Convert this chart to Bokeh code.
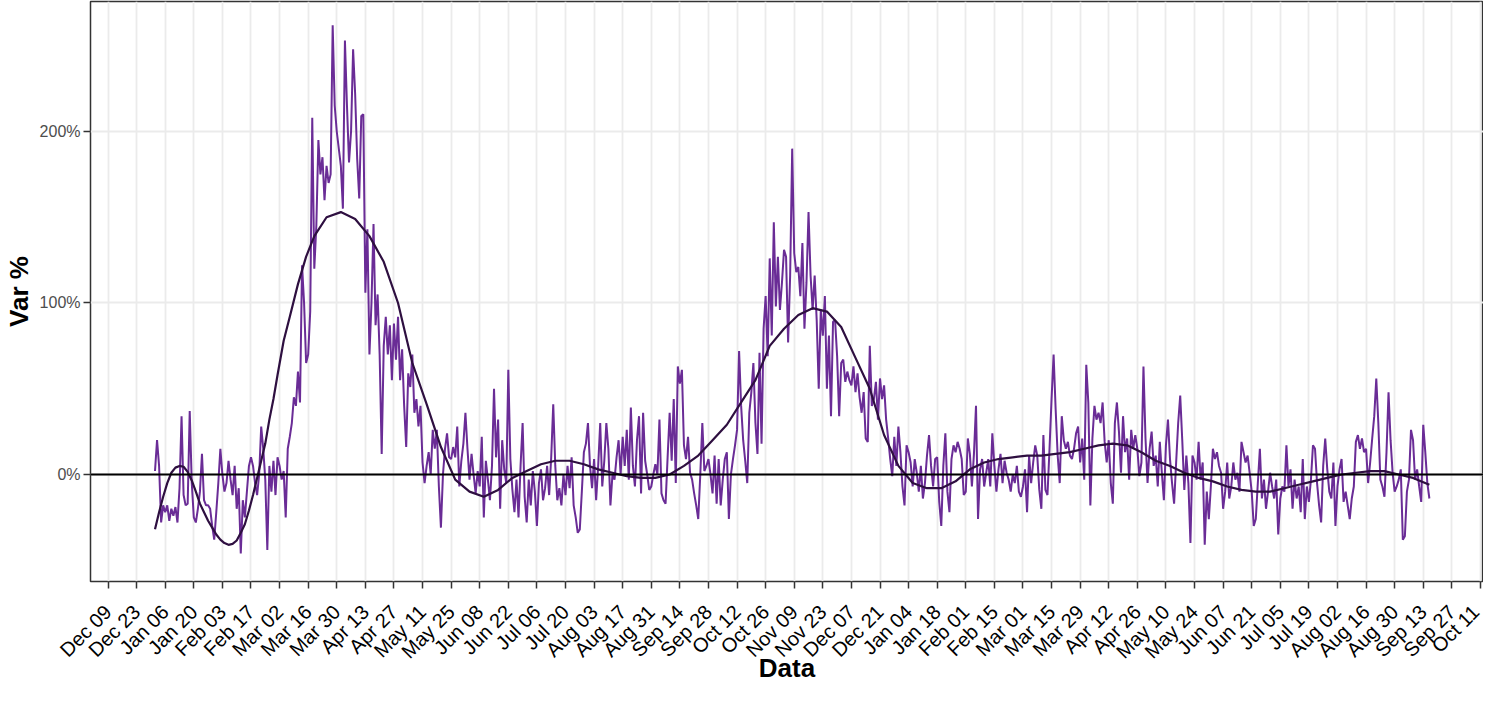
import math
import pandas as pd
from bokeh.plotting import figure
from bokeh.models import Range1d, FixedTicker, DatetimeTickFormatter, PrintfTickFormatter, Span
from bokeh.embed import file_html
from bokeh.resources import INLINE

# ---------------- data (daily Var %) ----------------
start_date = "2020-01-01"

var_2020_01 = [2, 20, 5, -28, -18, -22, -18, -27, -20, -24, -19, -28, -8, 34, -12, -18, -17, 37, -5,
               -25, -28, -20, -10, 12, -15, -18, -18, -20, -30, -38, -22]
var_2020_02 = [-5, 15, 0, -10, -5, 8, -3, -12, 5, -20, -8, -46, -15, -25, -10, 5,
               10, 5, -5, -12, 0, 28, 15, -3, -44, 5, -10, 8, -12]
var_2020_03 = [10, 5, -3, 2, -25, 15, 22, 30, 45, 40, 60, 42, 122, 100, 65,
               70, 95, 208, 120, 145, 195, 175, 185, 160, 180, 170, 175, 262, 215, 200, 190]
var_2020_04 = [180, 155, 253, 215, 182, 200, 248, 222, 184, 161, 209, 210,
               106, 143, 70, 100, 146, 87, 105, 70, 12, 75, 92, 70, 87, 55, 88, 67, 92, 55]
var_2020_05 = [73, 40, 16, 59, 51, 70, 36, 44, 28, 40, 7, -5, 5, 13, 0, 26, 15, 26, -7, -31, 0, 15, 24, 10,
               9, 16, 10, 28, -7, 8, 18]
var_2020_06 = [36, 15, -3, 12, 0, -11, 2, -7, 22, -25, 8, -3, -15, 5, 50, 10, 32, -20, 20, 3, -5,
               61, 9, -9, -22, -3, -25, 5, 30, -13]
var_2020_07 = [-28, -3, -18, 2, -10, -30, -5, 3, -15, -8, 5, -12, 10, 41, 5, -15, -8, -18, 0,
               -12, 5, -8, 10, -18, -25, -34, -32, -10, 13, 18, 30]
var_2020_08 = [5, -8, 9, -15, 5, 30, -7, 8, 30, 15, -18, 0, -3, 10, 20, 0,
               22, 5, 26, -3, 39, 5, -7, 20, 34, -11, 36, 8, 0, -9, -7]
var_2020_09 = [0, 6, 0, 32, -11, -15, -17, 10, 36, 8, 44, -5, 63,
               53, 61, 17, 9, 22, 1, -3, -11, -18, -26, 0, 30, 2, 5, 9, 0, -11]
var_2020_10 = [11, -17, 9, -18, -3, 9, 13, -26, 0, 9, 17,
               26, 72, 40, 20, 8, -5, 36, 48, 65, 30, 12, 71, 18, 85, 104, 69, 126, 81, 147, 98]
var_2020_11 = [127, 96, 112, 131, 127, 77, 116, 190, 129, 118, 121, 104, 135, 85, 112, 153, 116, 96, 116, 90, 50, 96,
               81, 104, 50, 81, 34, 89, 90, 69]
var_2020_12 = [34, 65, 67, 54, 60, 55, 52, 63, 48, 59, 45, 36, 48, 21, 19, 75, 40, 44, 54, 32,
               56, 44, 52, 32, 21, 9, -1, 22, 5, 28, 13]
var_2021_01 = [-7, -18, 17, 13, 7, -7, 9, 1, -10, 5, -14, -5, 11, 23, 5, -7, 9,
               10, -16, -30, 5, 24, -10, -22, 9, 17, 13, 19, 15, 9, -12]
var_2021_02 = [-10, 21, 12, -7, 12, 40, -26, 3, 9, -7, 1, 9, -7, 24,
               5, -10, 3, 12, -5, 8, 1, -3, -10, 0, -5, 5, -10, -13]
var_2021_03 = [-7, 3, -22, 11, -5, 7, 17, 11, -9, -20, 23, -9, -12, 15,
               44, 70, 38, 11, -5, 34, 20, 15, 19, 11, 9, 15, 24, 28, 7, 21, -3]
var_2021_04 = [64, 42, -18, 21, 40, 32, 36, 30, 42, 19, 7,
               20, -5, -17, 30, 42, 25, 1, 34, 13, 21, -3, 26, 15, 23, 15, -1, 7, 63, 21]
var_2021_05 = [-5, 15, 25, 5, 11, -7, 19, 1, -15, 17, 32, 9, -5, -17, 7, 30, 46, 20, -9, 11, -5, -40, 11,
               7, -3, 19, -3, 7, -41, -10, -26]
var_2021_06 = [-7, 15, 9, 13, 5, 1, -20, -10, 7, -14, -7, 7, -3, 1, -10, 19, 13, 7, 11, 1,
               -10, -30, -26, -5, 15, -14, -3, -20, -10, 1]
var_2021_07 = [-7, -14, -3, -35, -14, -7, -10, 17, -7, 3, -20, -3, -14, -7, -22, 9, -26, -7,
               -16, -3, 17, 15, -5, -18, -28, 5, 21, 3, -10, -14, 7]
var_2021_08 = [-30, -7, 3, 9, -16, -10, -18, -26, -14, -7, 19, 23, 15, 21, 13,
               15, -5, 7, 21, 34, 56, 30, -3, -7, -13, 13, 48, 20, 1, -10, -7]
var_2021_09 = [-3, 3, -38, -36, -10, -3, 26, 20, -3, 3, -7, -16, 29, 13, -5, -14]

# smoothed trend: day offsets from start_date and values
smooth_day = [0, 2, 4, 6, 8, 10, 12, 14, 16, 18, 20, 22, 24, 26, 28, 30, 32, 34, 36, 38, 40, 42, 44, 46,
              48, 50, 52, 54, 56, 58, 60, 63, 66, 70, 74, 78, 84, 91, 98, 105, 112, 119,
              126, 133, 140, 147, 154, 161, 168, 175, 182, 189, 196, 203, 210, 217, 224, 231, 238,
              245, 252, 259, 266, 273, 280, 287, 294, 301, 308, 315, 322, 329, 336, 343, 350, 357,
              364, 371, 378, 385, 392, 399, 406, 413, 420, 427, 434, 441, 448, 455, 462, 469, 476,
              483, 490, 497, 504, 511, 518, 525, 532, 539, 546, 553, 560, 567, 574, 581, 588, 595,
              602, 609, 616, 624]
smooth_val = [-32, -22, -13, -5, 1, 4, 5, 4.5, 1.5, -3.5, -10, -17, -22, -27, -31, -35, -38, -40, -41,
              -40.5, -38.5, -34, -29, -21, -12, -2, 8, 18, 32, 44, 58, 78, 92, 111, 127, 139, 150, 153,
              149, 139, 124, 100, 65, 41, 16, -3, -10, -13, -9, -2, 2, 6, 8, 8, 6, 3, 1, -1, -2,
              -2, 0, 5, 11, 20, 29, 42, 55, 75, 85, 93, 97, 95, 86, 68, 50, 23,
              5, -5, -8, -8, -4, 3, 7, 9, 10, 11, 11, 12, 13, 15, 17, 18, 17,
              13, 8, 5, 1, -2, -4, -7, -9, -10, -10, -8, -6, -4, -2, 0, 1, 2,
              2, 0, -2, -6]

tick_first = "2019-12-09"
tick_last = "2021-10-11"
y_ticks = [0, 100, 200]

# ---------------- build ----------------
values = (var_2020_01 + var_2020_02 + var_2020_03 + var_2020_04 + var_2020_05 + var_2020_06 +
          var_2020_07 + var_2020_08 + var_2020_09 + var_2020_10 + var_2020_11 + var_2020_12 +
          var_2021_01 + var_2021_02 + var_2021_03 + var_2021_04 + var_2021_05 + var_2021_06 +
          var_2021_07 + var_2021_08 + var_2021_09)
dates = pd.date_range(start_date, periods=len(values), freq="D")
sdates = [pd.Timestamp(start_date) + pd.Timedelta(days=d) for d in smooth_day]
n = min(len(sdates), len(smooth_val))
ticks = pd.date_range(tick_first, tick_last, freq="14D")
tick_ms = [t.value / 1e6 for t in ticks]

def ms(s):
    return pd.Timestamp(s).value / 1e6

FONT = "Liberation Sans"

p = figure(width=1483, height=686, x_axis_type="datetime",
           output_backend="svg", toolbar_location=None,
           x_range=Range1d(ms("2019-11-30 10:00"), ms("2021-10-12 12:00")),
           y_range=Range1d(-62.4, 275.8),
           min_border_left=87, min_border_right=0, min_border_top=1, min_border_bottom=105)

p.background_fill_color = "white"
p.border_fill_color = "white"
p.outline_line_color = "#333333"
p.outline_line_width = 1.5

p.line(dates, values, line_color="#6A2C96", line_width=2)
p.add_layout(Span(location=0, dimension="width", line_color="black", line_width=2))
p.line(sdates[:n], smooth_val[:n], line_color="#2E0F40", line_width=2.2)

# x axis
p.xaxis.ticker = FixedTicker(ticks=tick_ms)
p.xaxis.formatter = DatetimeTickFormatter(days="%b %d", months="%b %d", years="%b %d",
                                          hours="%b %d", minutes="%b %d", seconds="%b %d",
                                          milliseconds="%b %d", microseconds="%b %d",
                                          hourmin="%b %d", minsec="%b %d")
p.xaxis.major_label_orientation = math.pi / 4
p.xaxis.major_label_text_font = FONT
p.xaxis.major_label_text_font_size = "20px"
p.xaxis.major_label_text_color = "black"
p.xaxis.major_label_standoff = 20
p.xaxis.axis_label = "Data"
p.xaxis.axis_label_text_font = FONT
p.xaxis.axis_label_text_font_size = "26px"
p.xaxis.axis_label_text_font_style = "bold"
p.xaxis.axis_label_text_color = "black"
p.xaxis.axis_label_standoff = -20

# y axis
p.yaxis.ticker = FixedTicker(ticks=y_ticks)
p.yaxis.formatter = PrintfTickFormatter(format="%d%%")
p.yaxis.major_label_text_font = FONT
p.yaxis.major_label_text_font_size = "16px"
p.yaxis.major_label_text_color = "#4D4D4D"
p.yaxis.major_label_standoff = 3
p.yaxis.axis_label = "Var %"
p.yaxis.axis_label_text_font = FONT
p.yaxis.axis_label_text_font_size = "26px"
p.yaxis.axis_label_text_font_style = "bold"
p.yaxis.axis_label_text_color = "black"
p.yaxis.axis_label_standoff = 3

for ax in (p.xaxis, p.yaxis):
    ax.axis_line_color = None
    ax.major_tick_line_color = "#333333"
    ax.major_tick_line_width = 1.5
    ax.major_tick_out = 7
    ax.major_tick_in = 0
    ax.minor_tick_line_color = None

p.xgrid.grid_line_color = "#EBEBEB"
p.xgrid.grid_line_width = 1.8
p.ygrid.grid_line_color = "#EBEBEB"
p.ygrid.grid_line_width = 1.8

open("out.html", "w").write(file_html(p, INLINE))
